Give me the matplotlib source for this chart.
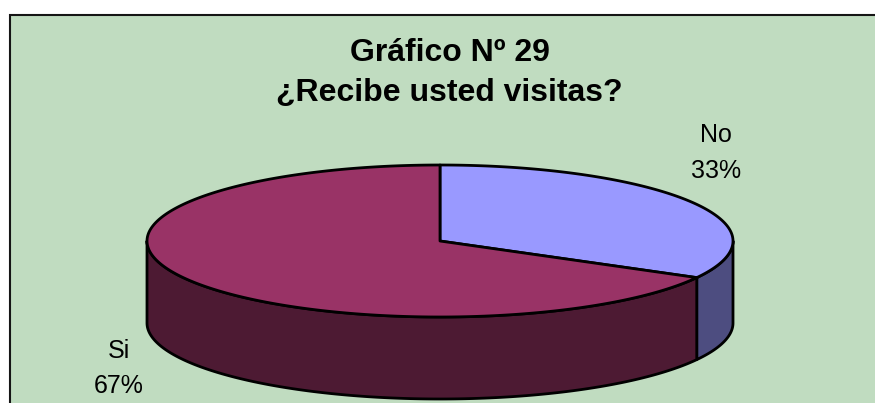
import numpy as np
import matplotlib
matplotlib.use("Agg")
import matplotlib.pyplot as plt
from matplotlib.patches import Polygon, Rectangle

# slices, clockwise from 12 o'clock
labels = ['No', 'Si']
values = [33, 67]
top_colors = ['#9999FF', '#993366']
side_colors = ['#4D4D80', '#4D1A33']

title_lines = ['Gráfico Nº 29', '¿Recibe usted visitas?']

bg = '#C0DCC0'
cx, cy = 440, 241
rx, ry = 293, 76
depth = 82

plt.rcParams['font.family'] = ['Liberation Sans', 'DejaVu Sans']

fig = plt.figure(figsize=(8.75, 4.03), dpi=100)
ax = fig.add_axes([0, 0, 1, 1])
ax.set_xlim(0, 875)
ax.set_ylim(403, 0)
ax.axis('off')

# chart area, right and bottom edges are cut off by the picture
ax.add_patch(Rectangle((9.5, 14.5), 900, 400, fc=bg, ec='#151515', lw=1.5))


def ell(a, dy=0):
    # a in degrees clockwise from the top
    t = np.radians(a)
    return cx + rx * np.sin(t), cy - ry * np.cos(t) + dy


fractions = np.cumsum([0] + values) / sum(values) * 360

# sides first, only the front half of the ellipse shows
for i in range(len(values)):
    a0 = max(fractions[i], 90)
    a1 = min(fractions[i + 1], 270)
    if a1 <= a0:
        continue
    a = np.linspace(a0, a1, 200)
    x, y = ell(a)
    xb, yb = ell(a[::-1], depth)
    pts = np.column_stack([np.r_[x, xb], np.r_[y, yb]])
    ax.add_patch(Polygon(pts, closed=True, fc=side_colors[i], ec='black', lw=2, joinstyle='round'))

# top faces
for i in range(len(values)):
    a = np.linspace(fractions[i], fractions[i + 1], 300)
    x, y = ell(a)
    pts = np.column_stack([np.r_[cx, x], np.r_[cy, y]])
    ax.add_patch(Polygon(pts, closed=True, fc=top_colors[i], ec='black', lw=2, joinstyle='round'))

ax.text(450, 53, title_lines[0], ha='center', va='center', fontsize=23, fontweight='bold', color='black')
ax.text(449, 92.5, title_lines[1], ha='center', va='center', fontsize=23, fontweight='bold', color='black')

# data labels
label_pos = [(716, 153), (119, 368.5)]
for name, v, (lx, ly) in zip(labels, values, label_pos):
    ax.text(lx, ly - 17.5, name, ha='center', va='center', fontsize=18, color='black')
    ax.text(lx, ly + 17.5, f'{v}%', ha='center', va='center', fontsize=18, color='black')

fig.savefig('out.png', dpi=100, facecolor='white')
